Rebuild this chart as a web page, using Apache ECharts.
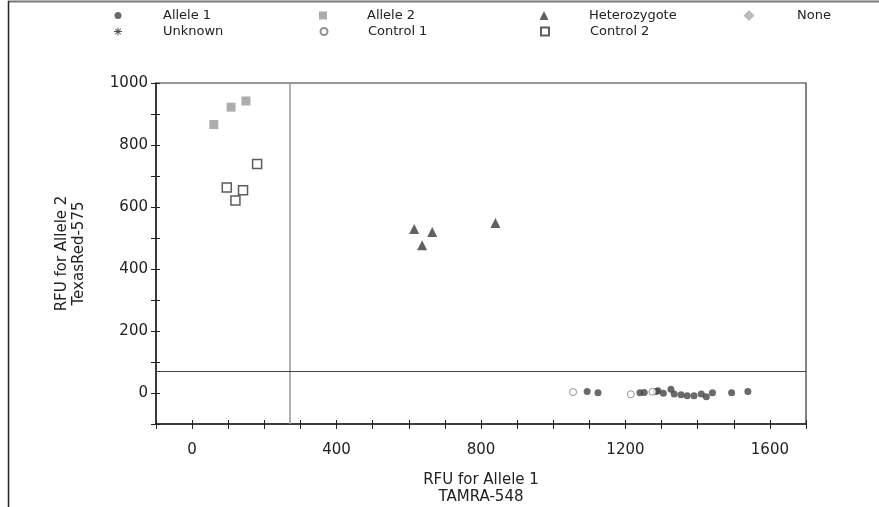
<!DOCTYPE html>
<html><head><meta charset="utf-8">
<script src="https://cdn.jsdelivr.net/npm/echarts@6/dist/echarts.min.js"></script>
<style>html,body{margin:0;padding:0;background:#fff}#c{width:879px;height:507px}</style>
</head><body><div id="c"></div>
<script>
// ---- data ----
const allele1 = [[1094,5],[1124,1],[1240,1],[1252,2],[1285,5],[1290,7],[1305,-1],[1326,12],[1335,-3],[1354,-6],[1371,-9],[1390,-9],[1410,-3],[1424,-12],[1441,1],[1494,1],[1539,5]];
const allele2 = [[60,866],[108,922],[149,942]];
const heterozygote = [[615,529],[637,477],[665,519],[840,548]];
const noneCall = [];
const unknown = [];
const control1 = [[1055,3],[1215,-4],[1275,4]];
const control2 = [[96,663],[120,621],[141,654],[180,739]];
const xThreshold = 270;
const yThreshold = 70;
const xTickLabels = [0,400,800,1200,1600];
const yTickLabels = [0,200,400,600,800,1000];

const FONT = 'DejaVu Sans';
const asterisk = 'path://M4.4,0H5.6V10H4.4Z M0,4.4H10V5.6H0Z M1.1,1.9L1.9,1.1L8.9,8.1L8.1,8.9Z M8.1,1.1L8.9,1.9L1.9,8.9L1.1,8.1Z';

const chart = echarts.init(document.getElementById('c'), null, {renderer:'canvas'});

// name, icon centre x, row top, icon size
const legendPos = [
  ['Allele 1',113,4,7],['Allele 2',318,4,8],['Heterozygote',539,4,9],['None',744,4,11],
  ['Unknown',113,20,8],['Control 1',318,20,7],['Control 2',539,20,8]
];
const legendTextX = {'Allele 1':158,'Allele 2':362,'Heterozygote':584,'None':792,'Unknown':158,'Control 1':362,'Control 2':584};

const legends = legendPos.map(([n,cx,t,s]) => {
  const l = cx - s / 2;
  return {
    data:[n], left:l, top:t, itemWidth:s, itemHeight:s, selectedMode:false,
    textStyle:{fontFamily:FONT, fontSize:13, color:'#222', padding:[0,0,0,legendTextX[n]-(l+s+5)]}
  };
});

const xAxisBase = {type:'value', min:-100, max:1700, interval:100, splitLine:{show:false}};
const yAxisBase = {type:'value', min:-100, max:1000, interval:100, splitLine:{show:false}};
const gridBase = {left:156, right:73, top:83, bottom:83, containLabel:false, outerBoundsMode:'none'};

chart.setOption({
  backgroundColor:'#fff',
  animation:false,
  legend: legends,
  grid:[
    Object.assign({}, gridBase, {show:true, borderColor:'#333', borderWidth:1.2}),
    Object.assign({}, gridBase, {show:false})
  ],
  xAxis:[
    Object.assign({}, xAxisBase, {
      gridIndex:0, position:'bottom',
      axisLine:{onZero:false, lineStyle:{color:'#222', width:1.5}},
      axisTick:{length:5, lineStyle:{color:'#222'}},
      axisLabel:{margin:19, fontFamily:FONT, fontSize:15, color:'#222', formatter:v => xTickLabels.includes(v) ? String(v) : ''},
      name:'RFU for Allele 1\nTAMRA-548', nameLocation:'middle', nameGap:48,
      nameTextStyle:{fontFamily:FONT, fontSize:15, color:'#222', lineHeight:17}
    }),
    Object.assign({}, xAxisBase, {
      gridIndex:1, position:'bottom',
      axisLine:{show:false, onZero:false},
      axisTick:{show:true, inside:true, length:4, lineStyle:{color:'#222'}}, axisLabel:{show:false}
    })
  ],
  yAxis:[
    Object.assign({}, yAxisBase, {
      gridIndex:0, position:'left',
      axisLine:{onZero:false, lineStyle:{color:'#222', width:1.5}},
      axisTick:{length:5, lineStyle:{color:'#222'}},
      axisLabel:{margin:8, fontFamily:FONT, fontSize:15, color:'#222', formatter:v => yTickLabels.includes(v) ? String(v) : ''},
      name:'RFU for Allele 2\nTexasRed-575', nameLocation:'middle', nameGap:68, nameRotate:90,
      nameTextStyle:{fontFamily:FONT, fontSize:15, color:'#222', lineHeight:17}
    }),
    Object.assign({}, yAxisBase, {
      gridIndex:1, position:'left',
      axisLine:{show:false, onZero:false},
      axisTick:{show:true, inside:true, length:4, lineStyle:{color:'#222'}}, axisLabel:{show:false}
    })
  ],
  graphic:[
    {type:'line', shape:{x1:8, y1:1.5, x2:879, y2:1.5}, style:{stroke:'#777', lineWidth:2}},
    {type:'line', shape:{x1:8.5, y1:1, x2:8.5, y2:507}, style:{stroke:'#222', lineWidth:1.5}}
  ],
  series:[
    {name:'Allele 1', type:'scatter', data:allele1, symbol:'circle', symbolSize:7, itemStyle:{color:'#454545'}, z:3,
     markLine:{silent:true, symbol:'none', label:{show:false}, animation:false,
       data:[{xAxis:xThreshold, lineStyle:{color:'#999', width:1.5, type:'solid'}},
             {yAxis:yThreshold, lineStyle:{color:'#444', width:1.2, type:'solid'}}]}},
    {name:'Allele 2', type:'scatter', data:allele2, symbol:'rect', symbolSize:9, itemStyle:{color:'#999'}},
    {name:'Heterozygote', type:'scatter', data:heterozygote, symbol:'triangle', symbolSize:10, itemStyle:{color:'#3a3a3a'}},
    {name:'None', type:'scatter', data:noneCall, symbol:'diamond', symbolSize:10, itemStyle:{color:'#aaa'}},
    {name:'Unknown', type:'scatter', data:unknown, symbol:asterisk, symbolSize:9, itemStyle:{color:'#222'}},
    {name:'Control 1', type:'scatter', data:control1, symbol:'circle', symbolSize:7, itemStyle:{color:'#fff', borderColor:'#777', borderWidth:1}, z:4},
    {name:'Control 2', type:'scatter', data:control2, symbol:'rect', symbolSize:9, itemStyle:{color:'#fff', borderColor:'#333', borderWidth:1.5}}
  ]
});
</script>
</body></html>
